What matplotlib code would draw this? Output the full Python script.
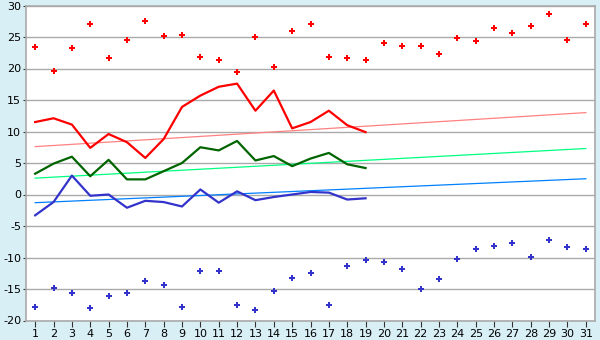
import numpy as np
import matplotlib
matplotlib.use("Agg")
import matplotlib.pyplot as plt

plt.rcParams["axes.unicode_minus"] = False

days = list(range(1, 32))

max_points = [23.4, 19.6, 23.3, 27.1, 21.7, 24.6, 27.6, 25.2, 25.3, 21.9,
              21.4, 19.5, 25.0, 20.3, 26.0, 27.1, 21.9, 21.7, 21.4, 24.1,
              23.6, 23.6, 22.3, 24.9, 24.4, 26.5, 25.7, 26.8, 28.7, 24.6, 27.1]
min_points = [-17.8, -14.8, -15.6, -18.0, -16.1, -15.6, -13.8, -14.3, -17.8, -12.1,
              -12.1, -17.5, -18.3, -15.3, -13.2, -12.4, -17.5, -11.3, -10.4, -10.7,
              -11.8, -15.0, -13.4, -10.2, -8.6, -8.1, -7.7, -9.9, -7.2, -8.3, -8.6]

line_days = list(range(1, 20))
max_line = [11.5, 12.1, 11.1, 7.4, 9.6, 8.3, 5.8, 8.8, 13.9, 15.7,
            17.1, 17.6, 13.3, 16.5, 10.5, 11.5, 13.3, 11.0, 9.9]
mean_line = [3.3, 4.9, 6.0, 2.9, 5.5, 2.4, 2.4, 3.7, 5.0, 7.5,
             7.0, 8.5, 5.4, 6.1, 4.5, 5.7, 6.6, 4.8, 4.2]
min_line = [-3.3, -1.2, 3.0, -0.2, 0.0, -2.1, -1.0, -1.2, -1.9, 0.8,
            -1.3, 0.5, -0.9, -0.4, 0.0, 0.4, 0.3, -0.8, -0.6]

trend_days = [1, 31]
max_trend = [7.6, 13.0]
mean_trend = [2.6, 7.3]
min_trend = [-1.3, 2.5]

bg = "#d9eff6"
grid_c = "#aaaaaa"

fig = plt.figure(figsize=(6, 3.4), dpi=100, facecolor=bg)
ax = fig.add_axes([26 / 600, 1 - 320.5 / 340, 569 / 600, 315 / 340])
ax.set_facecolor("white")

ax.plot(trend_days, max_trend, color="#ff8080", lw=0.9)
ax.plot(trend_days, mean_trend, color="#00ff80", lw=0.9)
ax.plot(trend_days, min_trend, color="#0080ff", lw=0.9)

ax.plot(line_days, max_line, color="#ff0000", lw=1.6)
ax.plot(line_days, mean_line, color="#006400", lw=1.6)
ax.plot(line_days, min_line, color="#3333cc", lw=1.6)

ax.plot(days, max_points, ls="none", marker="P", ms=4.5, color="#ff0000", mew=0)
ax.plot(days, min_points, ls="none", marker="P", ms=4.5, color="#3333cc", mew=0)

ax.set_xlim(0.5, 31.5)
ax.set_ylim(-20, 30)
ax.set_xticks(days)
ax.set_yticks(np.arange(-20, 31, 5))
ax.yaxis.grid(True, color=grid_c, lw=1)
ax.set_axisbelow(True)
for s in ax.spines.values():
    s.set_color(grid_c)
    s.set_linewidth(1.2)
ax.tick_params(axis="y", labelsize=8, length=2.5, color="#333333", pad=1)
ax.tick_params(axis="x", labelsize=8, length=4, color="#333333", pad=2)

fig.savefig("out.png", dpi=100, facecolor=bg)
